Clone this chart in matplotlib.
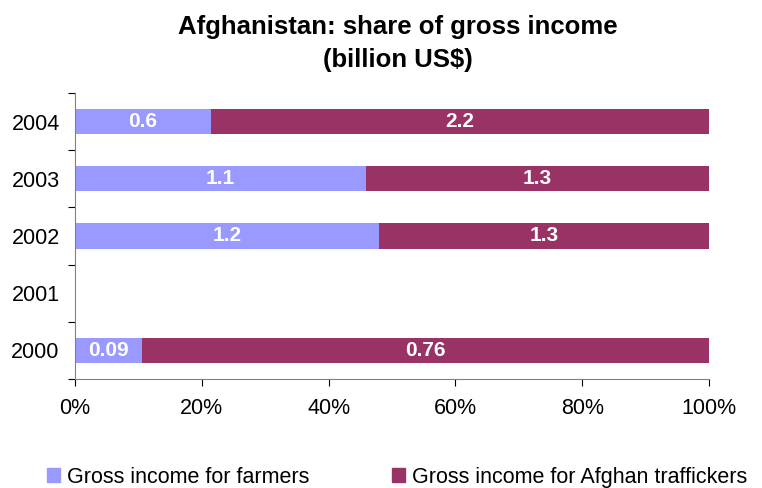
import numpy as np
import matplotlib
matplotlib.use("Agg")
import matplotlib.pyplot as plt
from matplotlib.patches import Patch

plt.rcParams["font.family"] = ["Liberation Sans", "DejaVu Sans"]

years = ["2000", "2001", "2002", "2003", "2004"]
farmers = [0.09, np.nan, 1.2, 1.1, 0.6]
traffickers = [0.76, np.nan, 1.3, 1.3, 2.2]
farmer_labels = ["0.09", "", "1.2", "1.1", "0.6"]
trafficker_labels = ["0.76", "", "1.3", "1.3", "2.2"]

C_FARM = "#9999FF"
C_TRAF = "#993366"

# shares of the total per year (100% stacked)
f = np.array(farmers)
t = np.array(traffickers)
tot = f + t
f_sh = np.nan_to_num(f / tot * 100)
t_sh = np.nan_to_num(t / tot * 100)

fig = plt.figure(figsize=(7.62, 4.88), dpi=100)
ax = fig.add_axes([0.0984, 0.2234, 0.832, 0.586])

pos = np.arange(len(years))
b1 = ax.barh(pos, f_sh, height=0.44, color=C_FARM)
b2 = ax.barh(pos, t_sh, left=f_sh, height=0.44, color=C_TRAF)
ax.bar_label(b1, labels=farmer_labels, label_type="center", color="white",
             fontsize=15, fontweight="bold")
ax.bar_label(b2, labels=trafficker_labels, label_type="center", color="white",
             fontsize=15, fontweight="bold")

ax.set_xlim(0, 100)
ax.set_ylim(-0.5, len(years) - 0.5)
ax.set_xticks(np.arange(0, 101, 20))
ax.set_xticklabels([f"{v}%" for v in range(0, 101, 20)])
ax.set_yticks(pos)
ax.set_yticklabels(years)
ax.set_yticks(np.arange(-0.5, len(years)), minor=True)
ax.tick_params(axis="y", which="major", length=0, pad=11)
ax.tick_params(axis="y", which="minor", length=5, width=0.8, direction="out")
ax.tick_params(axis="x", length=5, width=0.8, direction="out", pad=9)
ax.tick_params(labelsize=15.5)
for s in ["top", "right"]:
    ax.spines[s].set_visible(False)
for s in ["left", "bottom"]:
    ax.spines[s].set_color("#808080")
    ax.spines[s].set_linewidth(0.8)

fig.text(0.522, 0.930, "Afghanistan: share of gross income", ha="center", va="baseline",
         fontsize=18.5, fontweight="bold")
fig.text(0.522, 0.862, "(billion US$)", ha="center", va="baseline",
         fontsize=18.5, fontweight="bold")

handles = [Patch(color=C_FARM), Patch(color=C_TRAF)]
fig.legend(handles, ["Gross income for farmers", "Gross income for Afghan traffickers"],
           loc="center left", bbox_to_anchor=(0.0617, 0.0225), ncol=2, frameon=False,
           fontsize=15.5, handlelength=0.6, handleheight=0.6, handletextpad=0.33,
           columnspacing=3.85, borderaxespad=0, borderpad=0)

fig.savefig("out.png", dpi=100)
